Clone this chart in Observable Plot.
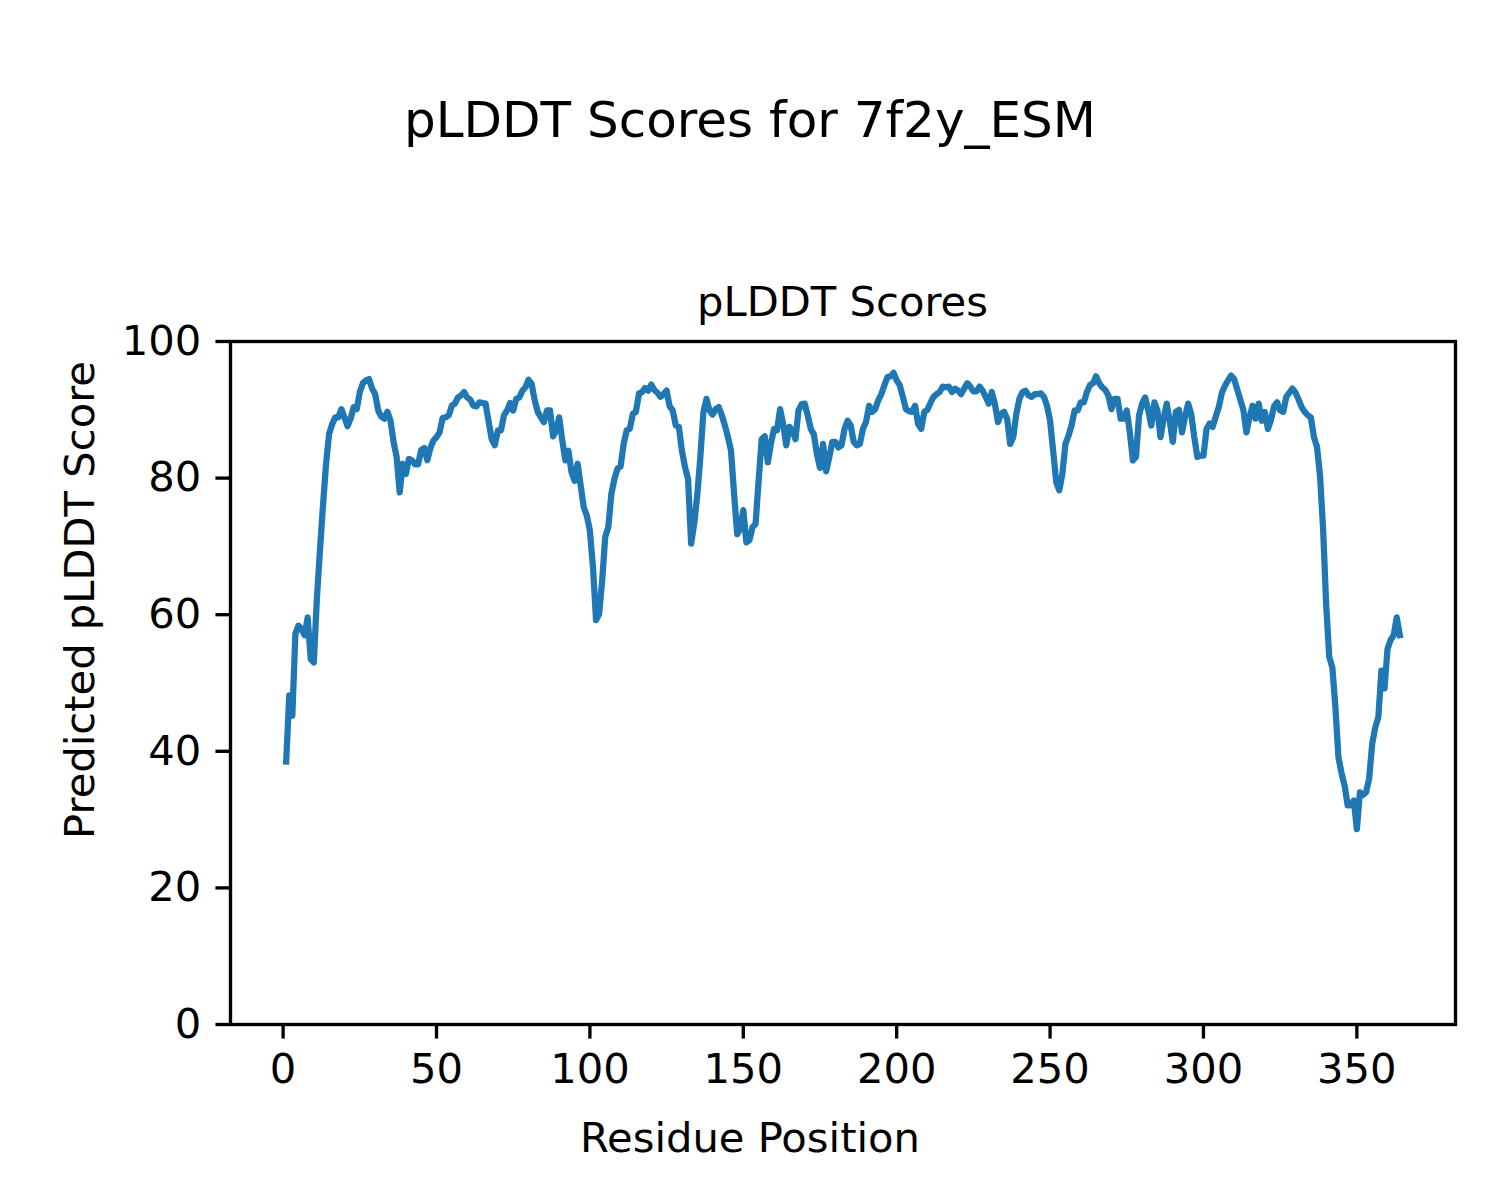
<!DOCTYPE html>
<html>
<head>
<meta charset="utf-8">
<script src="https://cdn.jsdelivr.net/npm/d3@7"></script>
<script src="https://cdn.jsdelivr.net/npm/@observablehq/plot@0.6"></script>
<style>
  html, body { margin: 0; padding: 0; background: white; }
  #chart { position: relative; width: 1500px; height: 1200px; }
</style>
</head>
<body>
<div id="chart"></div>
<script>
const figureTitle = "pLDDT Scores for 7f2y_ESM";
const axesTitle = "pLDDT Scores";
const xLabel = "Residue Position";
const yLabel = "Predicted pLDDT Score";
const xTicks = [0, 50, 100, 150, 200, 250, 300, 350];
const yTicks = [0, 20, 40, 60, 80, 100];

// pLDDT per residue (residues 1..364)
const plddt = [
  38.5,48.2,45.2,57.2,58.4,57.9,57.0,59.6,53.5,53.0,
  62.3,69.4,76.0,82.1,86.5,87.9,88.9,88.9,90.1,88.9,
  87.6,88.7,90.4,90.1,92.6,93.9,94.3,94.5,93.1,92.3,
  89.9,89.0,88.7,89.7,88.4,85.3,83.1,77.9,82.1,80.6,
  82.8,82.6,82.0,82.0,84.1,84.4,82.6,84.4,85.5,86.0,
  86.7,88.8,88.9,89.2,90.6,90.9,91.8,92.1,92.6,91.8,
  91.5,90.6,90.5,91.1,91.0,90.9,88.2,85.7,84.8,87.0,
  87.0,89.2,89.9,91.0,89.9,91.6,91.8,92.8,93.3,94.4,
  93.8,91.4,89.7,88.9,88.2,89.9,89.9,86.1,87.0,88.9,
  85.5,82.6,84.0,80.9,79.6,82.1,78.9,75.7,74.5,72.3,
  67.0,59.2,60.1,65.0,71.4,72.8,77.7,79.9,81.4,81.7,
  85.0,87.0,87.2,89.4,89.7,92.4,92.6,93.2,92.8,93.7,
  92.9,92.5,91.9,92.3,92.8,90.5,89.9,87.7,87.5,84.0,
  81.6,79.9,70.4,73.3,77.5,83.1,89.7,91.6,89.9,89.3,
  90.1,90.4,89.2,87.7,86.0,84.0,77.7,71.8,72.6,75.3,
  70.6,70.9,72.8,73.3,79.6,85.7,86.1,82.3,85.0,87.2,
  87.0,90.1,87.9,84.8,87.5,87.0,85.7,89.9,90.8,90.9,
  89.2,87.2,86.4,83.5,81.5,85.0,81.0,83.0,85.3,85.3,
  84.5,84.8,87.2,88.4,87.7,85.3,84.8,85.0,87.2,88.2,
  90.6,89.7,90.1,91.4,92.3,93.6,94.8,94.9,95.4,94.3,
  93.6,91.9,90.1,89.8,89.7,90.6,87.9,87.2,89.7,90.0,
  91.0,91.9,92.3,92.6,93.4,93.3,93.4,92.6,93.1,92.8,
  92.3,93.1,93.9,93.4,92.7,92.7,93.4,92.8,91.9,90.9,
  92.6,90.9,88.2,89.4,89.7,88.7,85.0,86.0,89.4,91.6,
  92.6,92.8,92.1,91.9,92.3,92.3,92.4,91.9,90.6,88.4,
  84.0,79.4,78.2,80.6,85.0,86.2,87.7,89.9,89.9,91.1,
  91.1,92.6,93.6,93.9,94.9,93.9,93.3,92.9,92.1,90.1,
  91.6,91.6,88.7,88.7,89.9,86.7,82.6,83.1,89.2,90.9,
  91.8,89.9,87.7,91.1,89.9,86.0,88.7,90.9,88.4,85.3,
  89.7,90.0,86.7,89.0,90.9,89.4,86.0,83.1,83.3,83.3,
  87.2,88.0,87.5,89.0,90.4,92.5,93.5,94.3,95.0,94.5,
  93.0,91.5,90.0,86.7,88.9,90.6,88.7,90.9,88.4,89.7,
  87.2,88.5,90.5,91.1,89.9,89.7,91.9,92.5,93.1,92.5,
  91.5,90.4,89.7,89.2,88.9,86.0,84.6,80.3,72.5,61.4,
  53.8,52.3,46.5,39.1,36.8,35.0,32.1,32.1,32.8,28.6,
  34.0,33.6,34.0,36.0,41.1,43.5,45.0,51.8,49.2,55.0,
  56.3,57.0,59.6,57.0
];
const residues = plddt.map((_, i) => i + 1);

const data = residues.map((r, i) => ({residue: r, score: plddt[i]}));

const [xmin, xmax] = d3.extent(residues);
const pad = (xmax - xmin) * 0.05;

const FS = 41.67;      // 10pt at 300 dpi
const LW = 3.33;       // 0.8pt
const TICK = 14.58;    // 3.5pt

const chart = Plot.plot({
  width: 1500,
  height: 1200,
  marginLeft: 230,
  marginRight: 45,
  marginTop: 341,
  marginBottom: 176,
  style: {fontFamily: "DejaVu Sans", fontSize: FS + "px", background: "white", color: "black", maxWidth: "none"},
  x: {domain: [xmin - pad, xmax + pad]},
  y: {domain: [0, 100]},
  marks: [
    Plot.line(data, {x: "residue", y: "score", stroke: "#1f77b4", strokeWidth: 6.25,
      strokeLinejoin: "round", strokeLinecap: "square"}),
    Plot.frame({stroke: "black", strokeWidth: LW}),
    Plot.axisX({ticks: xTicks, tickFormat: d => String(d), tickSize: TICK, tickPadding: TICK,
      strokeWidth: LW, label: null, fontSize: FS}),
    Plot.axisY({ticks: yTicks, tickFormat: d => String(d), tickSize: TICK, tickPadding: TICK,
      strokeWidth: LW, label: null, fontSize: FS})
  ]
});

document.getElementById("chart").appendChild(chart);

const svg = d3.select(chart);
const addText = (txt, x, y, size, rotate) => {
  const t = svg.append("text")
    .attr("text-anchor", "middle")
    .attr("font-family", "DejaVu Sans")
    .attr("font-size", size)
    .attr("fill", "black")
    .text(txt);
  if (rotate) t.attr("transform", `translate(${x},${y}) rotate(${rotate})`);
  else t.attr("x", x).attr("y", y);
};
addText(figureTitle, 750, 137, 50, 0);
addText(axesTitle, (230 + 1455) / 2, 316, FS, 0);
addText(xLabel, 750, 1152, FS, 0);
addText(yLabel, 94, 600, FS, -90);
</script>
</body>
</html>
